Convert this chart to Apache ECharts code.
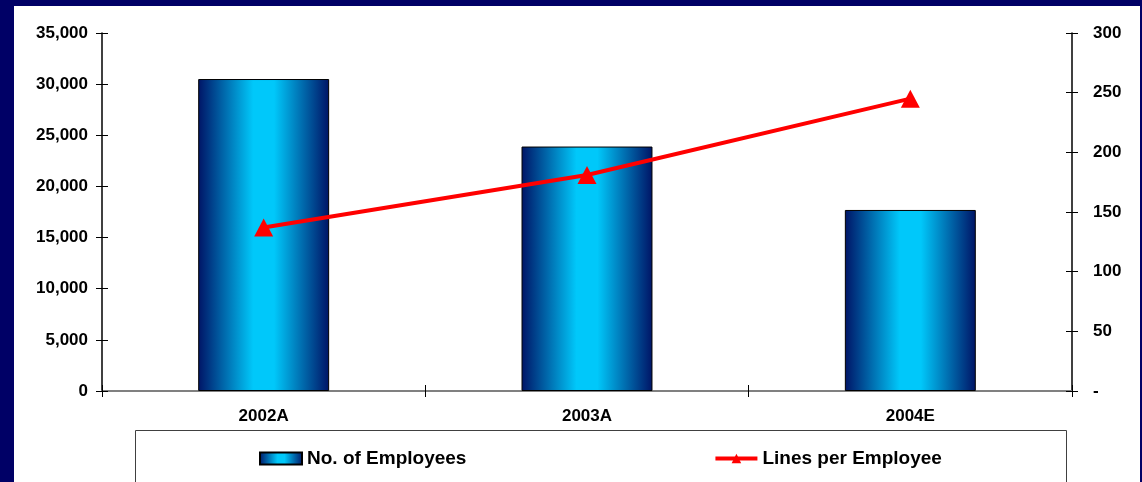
<!DOCTYPE html>
<html><head><meta charset="utf-8">
<script src="https://cdn.jsdelivr.net/npm/echarts@6/dist/echarts.min.js"></script>
<style>
html,body{margin:0;padding:0;width:1142px;height:482px;background:#000066;overflow:hidden}
#c{position:absolute;left:14px;top:6px;width:1126px;height:476px;background:#fff}
</style></head><body>
<div id="c"></div>
<script>
const categories = ['2002A', '2003A', '2004E'];
const employees = [30500, 23900, 17700];
const linesPerEmployee = [137, 181, 245];
const leftTicks = { min: 0, max: 35000, interval: 5000 };
const rightTicks = { min: 0, max: 300, interval: 50 };

const FONT = '"Liberation Sans", Arial, sans-serif';
const chart = echarts.init(document.getElementById('c'), null, { renderer: 'canvas' });
const barGrad = new echarts.graphic.LinearGradient(0, 0, 1, 0, [
  { offset: 0, color: '#001466' },
  { offset: 0.42, color: '#00c8fa' },
  { offset: 0.58, color: '#00c8fa' },
  { offset: 1, color: '#001466' }
]);
const labelStyle = { color: '#000', fontFamily: FONT, fontWeight: 'bold', fontSize: 17 };
const tickIn = { show: true, inside: true, length: 6, lineStyle: { color: '#000' } };
chart.setOption({
  animation: false,
  grid: { left: 88, right: 68, top: 27, bottom: 91 },
  graphic: [{
    type: 'rect', left: 121, top: 424,
    shape: { width: 931, height: 60 },
    style: { fill: '#fff', stroke: '#404040', lineWidth: 1 }
  }],
  legend: {
    left: 240, top: 438, itemGap: 247, itemWidth: 42, itemHeight: 12,
    textStyle: { color: '#000', fontFamily: FONT, fontWeight: 'bold', fontSize: 19 },
    data: [
      { name: 'No. of Employees', icon: 'rect' },
      { name: 'Lines per Employee', lineStyle: { width: 4 } }
    ]
  },
  xAxis: [{
    type: 'category', data: categories, boundaryGap: true,
    axisLine: { lineStyle: { color: '#000', width: 1.5 } },
    axisTick: { show: true, length: 6, lineStyle: { color: '#000' } },
    axisLabel: Object.assign({ margin: 17 }, labelStyle)
  }, {
    type: 'category', data: categories, position: 'top',
    axisLine: { lineStyle: { color: '#808080', width: 2 } },
    axisTick: { show: false }, axisLabel: { show: false }
  }, {
    type: 'category', data: categories, position: 'bottom',
    axisLine: { show: false }, axisTick: tickIn, axisLabel: { show: false }
  }],
  yAxis: [{
    type: 'value', min: leftTicks.min, max: leftTicks.max, interval: leftTicks.interval,
    axisLine: { show: true, lineStyle: { color: '#000', width: 1.5 } },
    axisTick: { show: true, length: 6, lineStyle: { color: '#000' } },
    splitLine: { show: false },
    axisLabel: Object.assign({ margin: 14, formatter: v => v.toLocaleString('en-US') }, labelStyle)
  }, {
    type: 'value', min: rightTicks.min, max: rightTicks.max, interval: rightTicks.interval,
    position: 'right',
    axisLine: { show: true, lineStyle: { color: '#000', width: 1.5 } },
    axisTick: { show: true, length: 6, lineStyle: { color: '#000' } },
    splitLine: { show: false },
    axisLabel: Object.assign({ margin: 21, formatter: v => v === 0 ? '-' : String(v) }, labelStyle)
  }, {
    type: 'value', min: leftTicks.min, max: leftTicks.max, interval: leftTicks.interval,
    position: 'left', axisLine: { show: false }, axisTick: tickIn,
    splitLine: { show: false }, axisLabel: { show: false }
  }, {
    type: 'value', min: rightTicks.min, max: rightTicks.max, interval: rightTicks.interval,
    position: 'right', axisLine: { show: false }, axisTick: tickIn,
    splitLine: { show: false }, axisLabel: { show: false }
  }],
  series: [{
    name: 'No. of Employees', type: 'bar', data: employees, barWidth: '40.5%',
    xAxisIndex: 0, yAxisIndex: 0,
    itemStyle: { color: barGrad, borderColor: '#000', borderWidth: 1 }
  }, {
    name: 'Lines per Employee', type: 'line', data: linesPerEmployee,
    xAxisIndex: 0, yAxisIndex: 1,
    symbol: 'triangle', symbolSize: [19, 18],
    lineStyle: { color: '#ff0000', width: 4 },
    itemStyle: { color: '#ff0000' }
  }]
});
</script>
</body></html>
